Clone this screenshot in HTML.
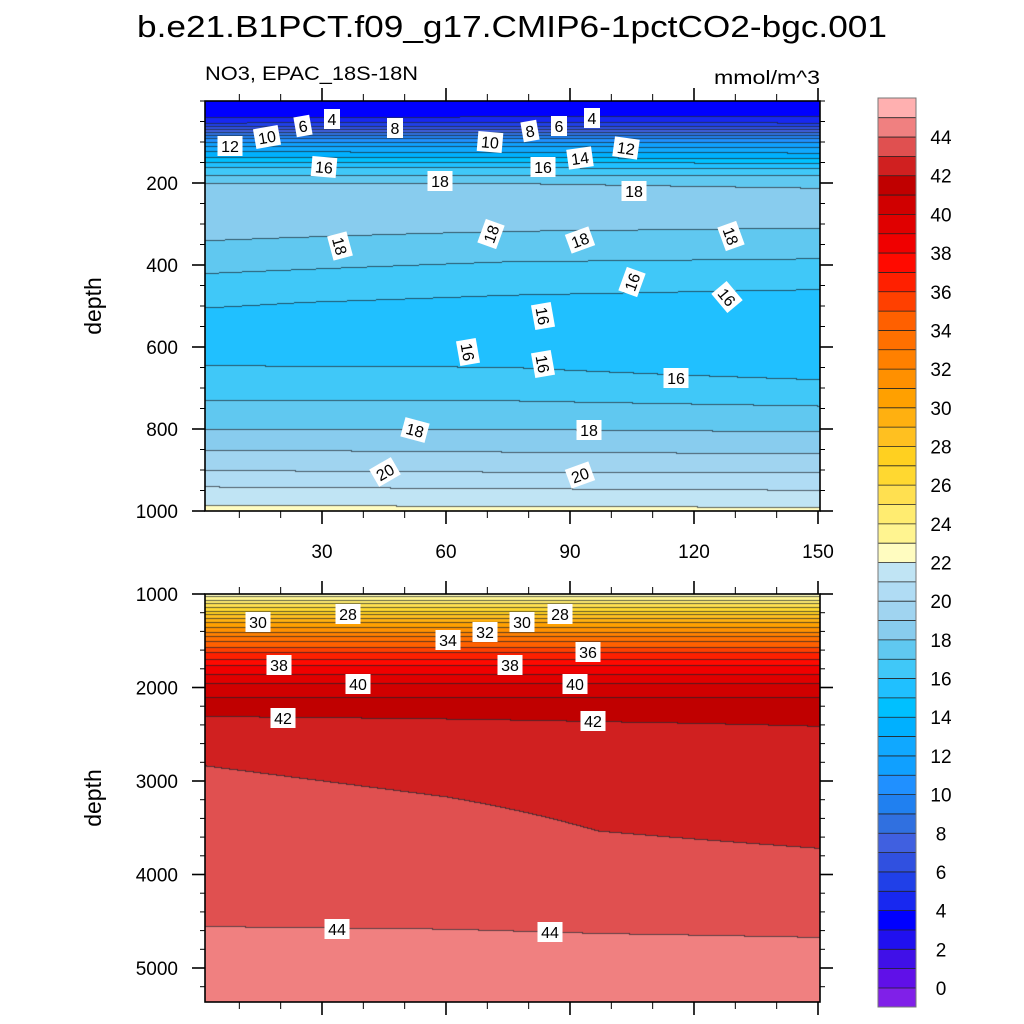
<!DOCTYPE html>
<html><head><meta charset="utf-8">
<style>
html,body{margin:0;padding:0;background:#fff;}
#root{position:relative;width:1024px;height:1024px;overflow:hidden;font-family:"Liberation Sans",sans-serif;}
canvas{position:absolute;}
svg{position:absolute;left:0;top:0;}
</style></head>
<body>
<div id="root">
<canvas id="cTop" width="615" height="410" style="left:205px;top:101px"></canvas>
<canvas id="cBot" width="615" height="408" style="left:205px;top:594px"></canvas>
<svg id="ov" width="1024" height="1024">
<text x="512" y="37" font-size="31" text-anchor="middle" textLength="750" lengthAdjust="spacingAndGlyphs">b.e21.B1PCT.f09_g17.CMIP6-1pctCO2-bgc.001</text>
<text x="205" y="80" font-size="19" textLength="213" lengthAdjust="spacingAndGlyphs">NO3, EPAC_18S-18N</text>
<text x="820" y="84" font-size="19" text-anchor="end" textLength="106" lengthAdjust="spacingAndGlyphs">mmol/m^3</text>
<text transform="translate(101,306) rotate(-90)" font-size="23" text-anchor="middle">depth</text>
<text transform="translate(101,798) rotate(-90)" font-size="23" text-anchor="middle">depth</text>
<g id="axes"></g>
<g id="labels" font-size="16" text-anchor="middle"></g>
<g id="cbar"></g>
</svg>
</div>
<script>
// ---- data ----
const levelColors = ["#8020e8","#6010e8","#4010e8","#2010f0","#0000ff","#1828f0","#2040e8","#3050e0","#4060e0","#3070e0","#2080f0","#2090ff","#10a0ff","#10a8ff","#00b0ff","#00c0ff","#20c0ff","#40c8f8","#60c8f0","#88ccee","#a0d4f0","#b0dcf4","#c0e4f4","#fffcc0","#fff490","#ffec70","#ffe050","#ffd830","#ffd020","#ffc020","#ffb010","#ffa000","#ff9000","#ff8000","#ff7000","#ff6000","#ff4000","#ff2000","#ff0a00","#f00000","#e00000","#d00000","#c00000","#d02020","#e05050","#f08080","#ffb0b0"];
const levelMin = 0;
const cbarLabels = [0,2,4,6,8,10,12,14,16,18,20,22,24,26,28,30,32,34,36,38,40,42,44];
const xTicks = [30,60,90,120,150];
const topYTicks = [200,400,600,800,1000];
const botYTicks = [1000,2000,3000,4000,5000];

const topYears = [1,75,150];
const topDepths = [0,30,45,60,75,90,110,135,160,180,200,270,340,420,490,560,640,730,800,850,900,940,985,1000];
const topEarly = [3.0,3.8,4.1,5.9,7.9,10.0,12.1,13.9,16.0,17.0,18.05,18.7,18.0,17.0,16.1,15.6,15.95,17.0,18.0,19.0,20.0,21.0,22.0,22.3];
const topMid   = [3.1,3.8,4.2,5.9,8.0,10.0,12.0,13.8,15.9,17.0,18.0,18.6,17.7,16.6,15.8,15.4,15.9,17.0,18.0,18.9,19.9,20.9,21.95,22.25];
const topLate  = [3.2,3.8,4.2,5.8,8.0,10.0,11.8,13.7,15.8,17.0,17.9,18.5,17.6,16.5,15.6,15.2,15.4,16.8,17.9,18.8,19.9,20.8,21.9,22.2];

const botYears = [1,60,97,150];
const botDepths = [1000,1064,1139,1214,1300,1406,1503,1620,1760,1952,2102,2305,2829,3500,4000,4551,5000,5400];
const bot1   = [22.3,24,26,28,30,32,34,36,38,40,41,42.0,43.0,43.5,43.8,44.0,44.3,44.5];
const bot60  = [22.3,24,26,28,30,32,34,36,38,40,41,41.96,42.75,43.25,43.6,43.98,44.3,44.5];
const bot97  = [22.3,24,26,28,30,32,34,36,38,40,41,41.93,42.6,42.98,43.3,43.95,44.25,44.5];
const bot150 = [22.3,24,26,28,30,32,34,36,38,40,41,41.9,42.4,42.85,43.2,43.93,44.2,44.45];

// ---- scales ----
const X0=205, X1=820;
const xScale = yr => 198 + yr*4.1333;
const xInv = px => (px-198)/4.1333;
const topY = d => 101 + d*0.41;
const topYInv = py => (py-101)/0.41;
const botY = d => 594 + (d-1000)*0.0935;
const botYInv = py => 1000 + (py-594)/0.0935;

function interp(xs, ys, x){
  if(x<=xs[0]) return ys[0];
  for(let i=1;i<xs.length;i++){ if(x<=xs[i]){const t=(x-xs[i-1])/(xs[i]-xs[i-1]);return ys[i-1]+t*(ys[i]-ys[i-1]);} }
  return ys[ys.length-1];
}
function hex(c){return [parseInt(c.slice(1,3),16),parseInt(c.slice(3,5),16),parseInt(c.slice(5,7),16)];}
const rgb = levelColors.map(hex);
function lvl(v){ let k=Math.floor(v-levelMin)+1; return Math.max(0,Math.min(levelColors.length-1,k)); }

function drawPanel(id, top, h, years, profiles, depths, yInv){
  const cv=document.getElementById(id), ctx=cv.getContext('2d');
  const W=cv.width, H=cv.height;
  const img=ctx.createImageData(W,H);
  const idx=new Int16Array(W*H);
  for(let px=0;px<W;px++){
    const yr=xInv(X0+px+0.5);
    const prof=depths.map((d,j)=>interp(years, profiles.map(p=>p[j]), yr));
    for(let py=0;py<H;py++){
      const d=yInv(top+py+0.5);
      idx[py*W+px]=lvl(interp(depths,prof,d));
    }
  }
  for(let py=0;py<H;py++)for(let px=0;px<W;px++){
    const k=idx[py*W+px]; let c=rgb[k];
    const up=py>0?idx[(py-1)*W+px]:k, lf=px>0?idx[py*W+px-1]:k;
    const o=(py*W+px)*4;
    if(up!==k||lf!==k){ img.data[o]=c[0]*0.3+20;img.data[o+1]=c[1]*0.3+25;img.data[o+2]=c[2]*0.3+30; }
    else {img.data[o]=c[0];img.data[o+1]=c[1];img.data[o+2]=c[2];}
    img.data[o+3]=255;
  }
  ctx.putImageData(img,0,0);
}
drawPanel('cTop',101,410,topYears,[topEarly,topMid,topLate],topDepths,topYInv);
drawPanel('cBot',594,408,botYears,[bot1,bot60,bot97,bot150],botDepths,botYInv);

// ---- axes ----
const NS='http://www.w3.org/2000/svg';
function el(tag,attrs,parent,txt){const e=document.createElementNS(NS,tag);for(const k in attrs)e.setAttribute(k,attrs[k]);if(txt!==undefined)e.textContent=txt;parent.appendChild(e);return e;}
const axes=document.getElementById('axes');
function frame(y0,y1,yFn,ticks,minorStep,minorStart,minorEnd,showX,name){
  const r=el('rect',{x:X0,y:y0,width:X1-X0,height:y1-y0,fill:'none',stroke:'#000','stroke-width':1.6},axes);
  
  
  for(let yr=10;yr<=150;yr+=10){
    const x=xScale(yr), maj=yr%30===0, L=maj?13:7;
    const t1=el('line',{x1:x,x2:x,y1:y1,y2:y1+L,stroke:'#000','stroke-width':maj?1.6:1},axes);
    
    
    el('line',{x1:x,x2:x,y1:y0,y2:y0-L,stroke:'#000','stroke-width':maj?1.6:1},axes);
  }
  if(showX){ xTicks.forEach(v=>{
    const t=el('text',{x:xScale(v),y:558,'font-size':19,'text-anchor':'middle'},axes,String(v));
    
    
  });}
  for(let d=minorStart; d<=minorEnd; d+=minorStep){
    const y=yFn(d); if(y<y0-0.5||y>y1+0.5) continue;
    const maj=ticks.includes(d), L=maj?13:5;
    el('line',{x1:X0,x2:X0-L,y1:y,y2:y,stroke:'#000','stroke-width':maj?1.6:1},axes);
    el('line',{x1:X1,x2:X1+L,y1:y,y2:y,stroke:'#000','stroke-width':maj?1.6:1},axes);
  }
  ticks.forEach(d=>{
    const t=el('text',{x:178,y:yFn(d)+7,'font-size':19,'text-anchor':'end'},axes,String(d));
    
    
  });
}
frame(101,511,topY,topYTicks,50,0,1000,true,'upper-panel');
frame(594,1002,botY,botYTicks,200,1000,5400,false,'lower-panel');

// ---- contour labels ----
const topLabelText = ["4","6","10","12","8","16","18","10","8","6","4","14","12","16","18","18","18","18","18","16","16","16","16","16","16","18","18","20","20"];
const topLabelPos = [[332,119,0],[303,126,-10],[267,137,-10],[230,146,0],[395,128,0],[324,167,5],[440,181,0],[490,142,5],[530,131,-10],[559,126,0],[592,118,0],[580,158,-8],[626,148,8],[543,167,0],[634,191,0],[340,246,75],[491,234,-70],[580,240,-20],[731,236,70],[632,282,-70],[727,297,50],[543,316,80],[468,352,80],[543,364,80],[676,378,0],[415,430,15],[589,430,0],[385,472,-30],[580,475,-20]];
const botLabelText = ["30","28","34","32","30","28","38","38","36","40","40","42","42","44","44"];
const botLabelPos = [[258,622,0],[348,614,0],[448,640,0],[485,632,0],[522,622,0],[560,614,0],[279,665,0],[510,665,0],[588,652,0],[358,684,0],[575,684,0],[283,718,0],[593,721,0],[337,929,0],[550,932,0]];
const lg=document.getElementById('labels');
function addLabels(texts,pos){
  texts.forEach((t,i)=>{
    const [x,y,r]=pos[i];
    const g=el('g',{transform:`translate(${x},${y}) rotate(${r})`},lg);
    
    
    const w=t.length*9+7;
    el('rect',{x:-w/2,y:-10,width:w,height:20,fill:'#fff'},g);
    el('text',{x:0,y:6},g,t);
  });
}
addLabels(topLabelText,topLabelPos);
addLabels(botLabelText,botLabelPos);

// ---- colorbar ----
const cb=document.getElementById('cbar');
const cbY = v => 988 - v*19.34;
for(let k=0;k<levelColors.length;k++){
  const yTop = k===levelColors.length-1 ? 98 : cbY(k);
  const yBot = k===0 ? 1007 : cbY(k-1);
  const r=el('rect',{x:878,y:yTop,width:38,height:yBot-yTop,fill:levelColors[k]},cb);
  
  
  if(k>0) el('line',{x1:878,x2:916,y1:yBot,y2:yBot,stroke:'#222','stroke-width':0.8},cb);
}
el('rect',{x:878,y:98,width:38,height:909,fill:'none',stroke:'#777','stroke-width':1},cb);
cbarLabels.forEach(v=>{
  const t=el('text',{x:941,y:cbY(v)+7,'font-size':19,'text-anchor':'middle'},cb,String(v));
  
  
});
</script>
</body></html>
